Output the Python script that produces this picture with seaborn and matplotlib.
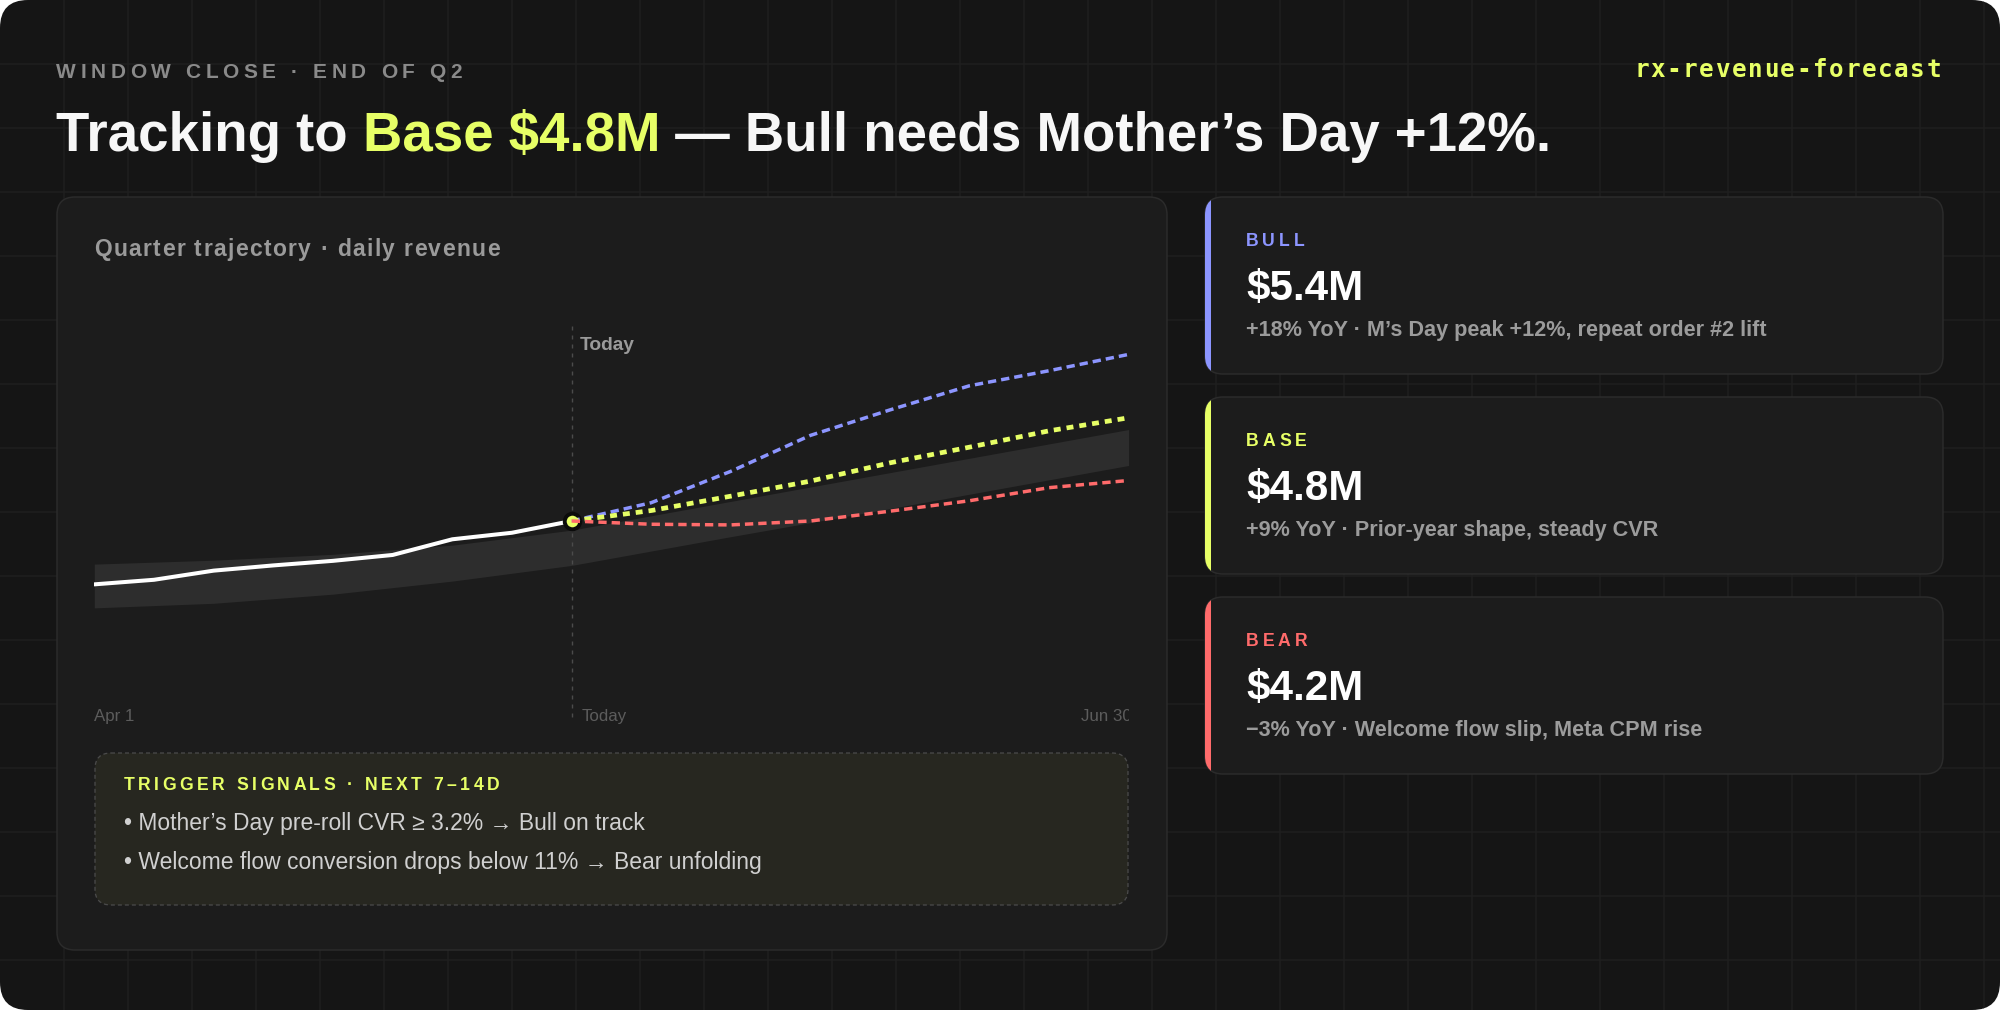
import numpy as np
import matplotlib
matplotlib.use("Agg")
import matplotlib.pyplot as plt
import matplotlib.transforms as mtransforms
from matplotlib.patches import FancyBboxPatch, Rectangle
import seaborn as sns

sns.set_theme(style="dark")
plt.rcParams["font.family"] = ["Liberation Sans", "DejaVu Sans"]
plt.rcParams["lines.scale_dashes"] = False

PX = 0.72  # points per pixel at dpi=100

# ---- data (daily revenue, $K) ----
actual_days = [0, 5.25, 10.5, 15.75, 21, 26.25, 31.5, 36.75, 42]
actual_rev = [40.3, 41.0, 42.4, 43.2, 43.9, 44.8, 47.2, 48.2, 50.0]

fc_days = [42, 49, 56, 63, 70, 77, 84, 91]
bull_rev = [50.0, 52.8, 57.6, 63.1, 67.0, 70.7, 73.0, 75.5]
base_rev = [50.0, 51.6, 53.8, 56.1, 58.9, 61.3, 63.8, 65.8]
bear_rev = [50.0, 49.5, 49.4, 50.0, 51.5, 53.1, 55.1, 56.2]

band_days = [0, 10.5, 21, 31.5, 42, 56, 70, 91]
band_lo = [36.7, 37.4, 38.8, 40.8, 43.2, 47.6, 51.9, 58.5]
band_hi = [43.4, 44.0, 44.9, 46.3, 48.6, 53.0, 57.4, 64.0]

today_day = 42
x_labels = ["Apr 1", "Today", "Jun 30"]

scenarios = ["BULL", "BASE", "BEAR"]
scenario_values = ["$5.4M", "$4.8M", "$4.2M"]
scenario_notes = [
    "+18% YoY · M’s Day peak +12%, repeat order #2 lift",
    "+9% YoY · Prior-year shape, steady CVR",
    "−3% YoY · Welcome flow slip, Meta CPM rise",
]
triggers = [
    "• Mother’s Day pre-roll CVR ≥ 3.2% → Bull on track",
    "• Welcome flow conversion drops below 11% → Bear unfolding",
]

BULL_C = "#8c95ff"
BASE_C = "#e7ff66"
BEAR_C = "#ff6b6b"
scenario_colors = [BULL_C, BASE_C, BEAR_C]

fig = plt.figure(figsize=(20, 10.1), dpi=100, facecolor="white")
bg = fig.add_axes([0, 0, 1, 1])
bg.set_xlim(0, 2000)
bg.set_ylim(1010, 0)
bg.axis("off")
R = fig.canvas.get_renderer()


def rbox(x, y, w, h, r, **kw):
    p = FancyBboxPatch((x, y), w, h, boxstyle=f"round,pad=0,rounding_size={r}", **kw)
    bg.add_patch(p)
    return p


def adv(s, **kw):
    if not s:
        return 0.0
    t1 = bg.text(0, 0, s + "|", **kw)
    t0 = bg.text(0, 0, "|", **kw)
    w = t1.get_window_extent(R).width - t0.get_window_extent(R).width
    t1.remove()
    t0.remove()
    return w


def put(x, y, s, track=0.0, ha="left", **kw):
    total = adv(s, **kw) + track * (len(s) - 1)
    if ha == "right":
        x -= total
    if track == 0:
        bg.text(x, y, s, ha="left", va="baseline", **kw)
    else:
        for i, ch in enumerate(s):
            if ch != " ":
                bg.text(x + adv(s[:i], **kw) + i * track, y, ch,
                        ha="left", va="baseline", **kw)
    return total


# ---- background card + grid ----
outer = rbox(0, 0, 2000, 1010, 28, fc="#151515", ec="none", zorder=0)
gv = bg.vlines(np.arange(64, 2000, 64), 0, 1010, colors="#1f1f1f", lw=1.5 * PX, zorder=0.5)
gh = bg.hlines(np.arange(64, 1010, 64), 0, 2000, colors="#1f1f1f", lw=1.5 * PX, zorder=0.5)
gv.set_clip_path(outer)
gh.set_clip_path(outer)

# ---- header ----
put(56, 78, "WINDOW CLOSE · END OF Q2", track=4.6, fontsize=15, weight="bold", color="#8a8a8a")
put(1941, 77, "rx-revenue-forecast", track=1.6, ha="right", fontsize=17.5,
    family="DejaVu Sans Mono", weight="bold", color=BASE_C)

tkw = dict(fontsize=39.3, weight="bold")
segs = [("Tracking to ", "#f7f7f7"), ("Base $4.8M", BASE_C),
        (" — Bull needs Mother’s Day +12%.", "#f7f7f7")]
prefix = ""
for seg, col in segs:
    put(56 + adv(prefix, **tkw), 151, seg, color=col, **tkw)
    prefix += seg

# ---- left panel ----
rbox(57, 197, 1110, 753, 18, fc="#1c1c1c", ec="#2b2b2b", lw=1.5 * PX, zorder=1)
put(94, 256, "Quarter trajectory · daily revenue", track=1.4, fontsize=16.5,
    weight="bold", color="#9a9a9a", zorder=2)

# trigger box
rbox(95, 753, 1033, 152, 16, fc="#272720", ec="#4a4a4a", lw=1.3 * PX,
     ls=(0, (4 * PX, 3 * PX)), zorder=1)
put(124, 790, "TRIGGER SIGNALS · NEXT 7–14D", track=3.4, fontsize=12.7,
    weight="bold", color=BASE_C, zorder=2)
for i, line in enumerate(triggers):
    put(124, 830 + 38.5 * i, line, fontsize=16.5, color="#d0d0d0", zorder=2)

# ---- scenario cards ----
for i in range(3):
    top = 197 + 200 * i
    card = rbox(1205, top, 738, 177, 18, fc="#1c1c1c", ec="#2b2b2b", lw=1.5 * PX, zorder=1)
    acc = Rectangle((1200, top - 4), 10.5, 186, fc=scenario_colors[i], ec="none", zorder=2)
    bg.add_patch(acc)
    acc.set_clip_path(card)
    put(1246, top + 49, scenarios[i], track=3.8, fontsize=12.7, weight="bold",
        color=scenario_colors[i], zorder=3)
    put(1246, top + 103, scenario_values[i], fontsize=30.3, weight="bold",
        color="#ffffff", zorder=3)
    put(1246, top + 139, scenario_notes[i], fontsize=15.6, weight="bold",
        color="#9b9b9b", zorder=3)

# ---- trajectory chart ----
y_top_px, y_bot_px, px_per_unit = 325, 730, 6.533
ax = fig.add_axes([94.3 / 2000, 1 - y_bot_px / 1010, 1034.3 / 2000,
                   (y_bot_px - y_top_px) / 1010])
ax.set_xlim(0, 91)
ax.set_ylim(80 - (y_bot_px - y_top_px) / px_per_unit, 80)
ax.axis("off")
ax.patch.set_visible(False)

ax.fill_between(band_days, band_lo, band_hi, color="#2d2d2d", lw=0, zorder=1)
ax.vlines(today_day, 20, 80, colors="#4b4b4b", lw=1.4 * PX,
          linestyles=[(0, (4 * PX, 5 * PX))], zorder=2)
sns.lineplot(x=actual_days, y=actual_rev, ax=ax, color="white", lw=2.9,
             legend=False, zorder=3)
ax.scatter([today_day], [actual_rev[-1]], s=125, color=BASE_C,
           edgecolor="#0b0b0b", linewidth=2.8, zorder=4)
for vals, col, lw, dash, z in [(bull_rev, BULL_C, 2.5, (6.0, 3.6), 5),
                               (base_rev, BASE_C, 3.4, (5.0, 4.3), 6),
                               (bear_rev, BEAR_C, 2.5, (6.0, 3.6), 7)]:
    sns.lineplot(x=fc_days, y=vals, ax=ax, color=col, lw=lw,
                 linestyle=(0, dash), legend=False, zorder=z)

off = lambda dx: mtransforms.offset_copy(ax.transData, fig=fig, x=dx, y=0, units="dots")
ax.text(today_day, 76.2, "Today", transform=off(8.5), ha="left", va="baseline",
        fontsize=13.8, weight="bold", color="#9a9a9a")
lab_y = 20 - 3.7 / px_per_unit
ax.text(0, lab_y, x_labels[0], ha="left", va="baseline", fontsize=12.2, color="#5c5c5c")
ax.text(today_day, lab_y, x_labels[1], transform=off(10), ha="left", va="baseline",
        fontsize=12.2, color="#5c5c5c")
ax.text(91, lab_y, x_labels[2], transform=off(3), ha="right", va="baseline",
        fontsize=12.2, color="#5c5c5c", clip_on=True)

fig.savefig("out.png", dpi=100, facecolor="white")
